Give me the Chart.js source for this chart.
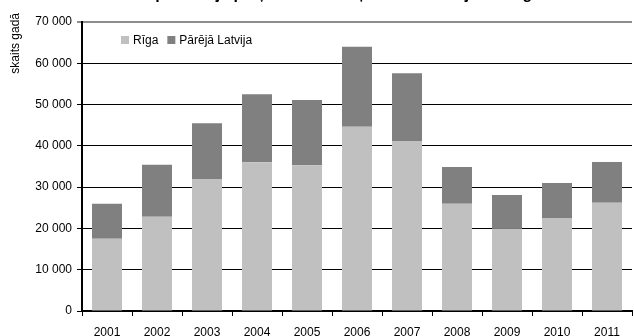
<!DOCTYPE html>
<html>
<head>
<meta charset="utf-8">
<script src="https://cdn.jsdelivr.net/npm/chart.js@4/dist/chart.umd.min.js"></script>
<style>
  html, body { margin: 0; padding: 0; background: #fff; }
  #wrap { position: relative; width: 634px; height: 336px; }
</style>
</head>
<body>
<div id="wrap"><canvas id="c" width="634" height="336"></canvas></div>
<script>
// Dzīvokļu skaits gadā: Rīga un pārējā Latvija
const years = ['2001','2002','2003','2004','2005','2006','2007','2008','2009','2010','2011'];
const rigaValues  = [17500, 22800, 32000, 36000, 35300, 44600, 41200, 26000, 19900, 22500, 26200];
const otherValues = [8500, 12600, 13500, 16500, 15800, 19400, 16400, 8900, 8200, 8500, 9900];
const seriesNames = ['Rīga', 'Pārējā Latvija'];
const yTicks = [0, 10000, 20000, 30000, 40000, 50000, 60000, 70000];
const chartTitle = 'Ekspluatācijā pieņemto dzīvokļu skaits Latvijā un Rīgā';
const yTitle = 'skaits gadā';

const FONT = '"Liberation Sans", Arial, sans-serif';
const fmt = v => String(v).replace(/\B(?=(\d{3})+(?!\d))/g, ' ');

const extras = {
  id: 'extras',
  beforeDraw(chart) {
    const ctx = chart.ctx;
    ctx.save();
    ctx.fillStyle = '#fff';
    ctx.fillRect(0, 0, chart.width, chart.height);
    ctx.restore();
  },
  afterDraw(chart) {
    const ctx = chart.ctx;
    const area = chart.chartArea;
    ctx.save();
    // title, sitting at the very top edge
    ctx.fillStyle = '#000';
    ctx.font = 'bold 16px ' + FONT;
    ctx.textAlign = 'center';
    ctx.textBaseline = 'alphabetic';
    ctx.fillText(chartTitle, 334, -1);
    // rotated y-axis title
    ctx.font = '12px ' + FONT;
    ctx.translate(19, 13);
    ctx.rotate(-Math.PI / 2);
    ctx.textAlign = 'right';
    ctx.textBaseline = 'alphabetic';
    ctx.fillText(yTitle, 0, 0);
    ctx.restore();
    // legend inside the plot area
    ctx.save();
    ctx.font = '12px ' + FONT;
    ctx.textBaseline = 'middle';
    ctx.textAlign = 'left';
    let x = area.left + 39;
    const y = area.top + 18;
    chart.data.datasets.forEach(ds => {
      ctx.fillStyle = ds.backgroundColor;
      ctx.fillRect(x, y - 4, 8, 8);
      ctx.fillStyle = '#000';
      ctx.fillText(ds.label, x + 12, y + 1);
      x += 12 + ctx.measureText(ds.label).width + 9;
    });
    ctx.restore();
  }
};

new Chart(document.getElementById('c'), {
  type: 'bar',
  data: {
    labels: years,
    datasets: [
      { label: seriesNames[0], data: rigaValues, backgroundColor: '#c0c0c0', barPercentage: 0.6, categoryPercentage: 1 },
      { label: seriesNames[1], data: otherValues, backgroundColor: '#808080', barPercentage: 0.6, categoryPercentage: 1 }
    ]
  },
  options: {
    responsive: false,
    animation: false,
    devicePixelRatio: 1,
    layout: { padding: { top: 22, right: 2, left: 0, bottom: 0 } },
    plugins: { legend: { display: false }, title: { display: false }, tooltip: { enabled: false } },
    scales: {
      x: {
        stacked: true,
        afterFit(scale) { scale.height = 25; },
        grid: { offset: true, drawOnChartArea: false, drawTicks: true, tickLength: 5, color: '#000', lineWidth: 1 },
        border: { display: true, color: '#000', width: 2 },
        ticks: { color: '#000', font: { family: FONT, size: 12 }, padding: 9, maxRotation: 0, autoSkip: false }
      },
      y: {
        stacked: true,
        min: 0,
        max: 70000,
        afterFit(scale) { scale.width = 82; },
        afterBuildTicks(scale) { scale.ticks = yTicks.map(v => ({ value: v })); },
        grid: {
          color: ctx => (ctx.tick && ctx.tick.value === 70000) ? '#8c8c8c' : '#000',
          lineWidth: ctx => (ctx.tick && ctx.tick.value === 70000) ? 2 : 1,
          tickLength: 5
        },
        border: { display: true, color: '#000', width: 2 },
        ticks: { color: '#000', font: { family: FONT, size: 12 }, padding: 5, callback: v => fmt(v) }
      }
    }
  },
  plugins: [extras]
});
</script>
</body>
</html>
